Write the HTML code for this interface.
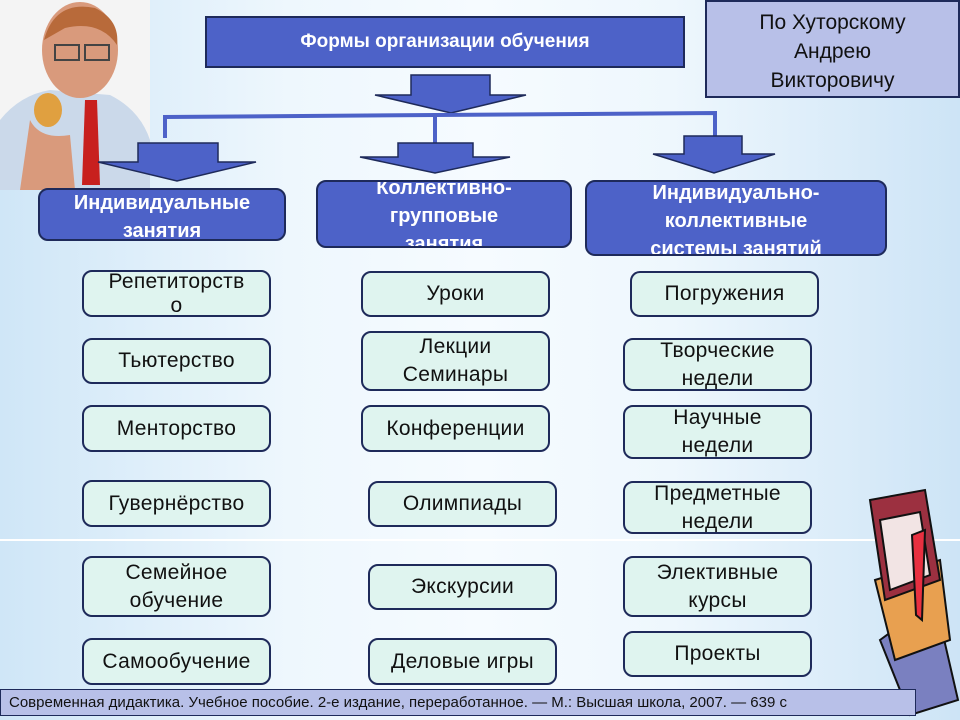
<!DOCTYPE html>
<html><head><meta charset="utf-8"><style>
*{margin:0;padding:0;box-sizing:border-box}
body{width:960px;height:720px;position:relative;overflow:hidden;font-family:"Liberation Sans",sans-serif;
background:linear-gradient(90deg,#cfe6f7 0%,#eef7fd 30%,#f6fbff 50%,#eef7fd 70%,#cde4f6 100%)}
.b{position:absolute;background:#dff4ef;border:2px solid #1e2a5a;border-radius:10px;display:flex;align-items:center;justify-content:center;text-align:center;font-size:21px;line-height:28px;color:#111;letter-spacing:0.3px;overflow:hidden}
.c{position:absolute;background:#4d62c8;border:2px solid #1e2a5a;border-radius:10px;color:#fff;font-weight:bold;font-size:20px;line-height:28px;text-align:center;overflow:hidden}
</style></head><body>
<svg style="position:absolute;left:0;top:0" width="960" height="720">
<line x1="0" y1="540" x2="960" y2="540" stroke="#fff" stroke-width="2"/>
<rect x="0" y="0" width="150" height="190" fill="#f4f4f4"/>
<path d="M0 190 L0 120 Q20 95 50 90 L110 95 Q140 110 150 140 L150 190Z" fill="#cbd9ea"/>
<ellipse cx="80" cy="50" rx="38" ry="48" fill="#d99a7c"/>
<path d="M44 40 Q55 0 95 8 Q120 20 117 45 Q100 20 65 28Z" fill="#b86a3a"/>
<rect x="55" y="45" width="24" height="15" fill="none" stroke="#444" stroke-width="2"/>
<rect x="85" y="45" width="24" height="15" fill="none" stroke="#444" stroke-width="2"/>
<path d="M85 100 L97 100 L100 185 L82 185Z" fill="#c8201e"/>
<ellipse cx="48" cy="110" rx="14" ry="17" fill="#e0a040"/>
<path d="M30 120 Q40 140 70 135 L75 190 L20 190Z" fill="#d99a7c"/>
<polygon points="411,75 490,75 490,95 526,95 451,113 375,95 411,95" fill="#4d62c8" stroke="#1e2a5a" stroke-width="1.5"/>
<polyline points="165,138 165,117 715,113 715,136" fill="none" stroke="#4d62c8" stroke-width="4"/>
<line x1="435" y1="115" x2="435" y2="143" stroke="#4d62c8" stroke-width="4"/>
<polygon points="138,143 218,143 218,162 256,162 177,181 98,162 138,162" fill="#4d62c8" stroke="#1e2a5a" stroke-width="1.5"/>
<polygon points="398,143 473,143 473,157 510,157 435,173 360,157 398,157" fill="#4d62c8" stroke="#1e2a5a" stroke-width="1.5"/>
<polygon points="684,136 742,136 742,154 775,154 714,173 653,154 684,154" fill="#4d62c8" stroke="#1e2a5a" stroke-width="1.5"/>
<g stroke="#111" stroke-width="2">
<polygon points="880,640 935,600 958,700 910,715" fill="#7a80c0"/>
<polygon points="875,580 940,560 950,640 895,660" fill="#e8a050"/>
<polygon points="870,500 925,490 940,580 885,600" fill="#9c3040"/>
<polygon points="880,520 920,512 930,575 890,590" fill="#f2e4e4"/>
<polygon points="912,535 925,530 922,620 916,615" fill="#e83040"/>
</g>
</svg>
<div style="position:absolute;left:205px;top:16px;width:480px;height:52px;background:#4d62c8;border:2px solid #1e2a5a;color:#fff;font-weight:bold;font-size:19px;display:flex;align-items:center;justify-content:center">Формы организации обучения</div>
<div style="position:absolute;left:705px;top:0;width:255px;height:98px;background:#b8c0e8;border:2px solid #1e2a5a;font-size:21px;line-height:29px;text-align:center;padding-top:6px;color:#111">По Хуторскому<br>Андрею<br>Викторовичу</div>
<div class="c" style="left:38px;top:188px;width:248px;height:53px"><div style="margin-top:-1px">Индивидуальные<br>занятия</div></div>
<div class="c" style="left:316px;top:180px;width:256px;height:68px"><div style="margin-top:-8px">Коллективно-<br>групповые<br>занятия</div></div>
<div class="c" style="left:585px;top:180px;width:302px;height:76px"><div style="margin-top:-3px">Индивидуально-<br>коллективные<br>системы занятий</div></div>
<div class="b" style="left:82px;top:270px;width:189px;height:47px;line-height:24px">Репетиторств<br>о</div>
<div class="b" style="left:82px;top:338px;width:189px;height:46px">Тьютерство</div>
<div class="b" style="left:82px;top:405px;width:189px;height:47px">Менторство</div>
<div class="b" style="left:82px;top:480px;width:189px;height:47px">Гувернёрство</div>
<div class="b" style="left:82px;top:556px;width:189px;height:61px">Семейное<br>обучение</div>
<div class="b" style="left:82px;top:638px;width:189px;height:47px">Самообучение</div>
<div class="b" style="left:361px;top:271px;width:189px;height:46px">Уроки</div>
<div class="b" style="left:361px;top:331px;width:189px;height:60px">Лекции<br>Семинары</div>
<div class="b" style="left:361px;top:405px;width:189px;height:47px">Конференции</div>
<div class="b" style="left:368px;top:481px;width:189px;height:46px">Олимпиады</div>
<div class="b" style="left:368px;top:564px;width:189px;height:46px">Экскурсии</div>
<div class="b" style="left:368px;top:638px;width:189px;height:47px">Деловые игры</div>
<div class="b" style="left:630px;top:271px;width:189px;height:46px">Погружения</div>
<div class="b" style="left:623px;top:338px;width:189px;height:53px">Творческие<br>недели</div>
<div class="b" style="left:623px;top:405px;width:189px;height:54px">Научные<br>недели</div>
<div class="b" style="left:623px;top:481px;width:189px;height:53px">Предметные<br>недели</div>
<div class="b" style="left:623px;top:556px;width:189px;height:61px">Элективные<br>курсы</div>
<div class="b" style="left:623px;top:631px;width:189px;height:46px">Проекты</div>
<div style="position:absolute;left:0;top:689px;width:916px;height:27px;background:#b8c0e8;border:1px solid #1e2a5a;font-size:15px;line-height:25px;padding-left:8px;color:#111">Современная дидактика. Учебное пособие. 2-е издание, переработанное. — М.: Высшая школа, 2007. — 639 с</div>
</body></html>
